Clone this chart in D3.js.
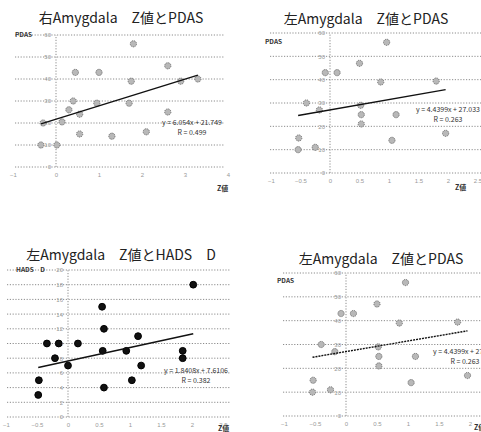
<!DOCTYPE html>
<html>
<head>
<meta charset="utf-8">
<script src="https://cdnjs.cloudflare.com/ajax/libs/d3/7.8.5/d3.min.js"></script>
<style>
body{margin:0;background:#fff;}
svg{display:block;font-family:"Noto Sans CJK JP","Noto Sans",sans-serif;}
.grid{stroke:#8c8c8c;stroke-width:1;stroke-dasharray:1.2,1.6;}
.yaxis .tick text,.xaxis .tick text{fill:#999;font-size:6px;}
</style>
</head>
<body>
<svg id="canvas" width="481" height="432"></svg>
<script>
//右Amygdala Z値 - PDAS
var rightZ    = [1.8, 2.6, 0.45, 1.0, 1.75, 2.9, 3.3, 0.4, 0.3, 0.55, 0.95, 1.7, 2.6, -0.3, 0.14, 0.55, 1.3, 2.1, -0.35, 0.02];
var rightPDAS = [56, 46, 43, 43, 39, 39, 40, 30, 26, 24, 29, 29, 25, 20, 20.5, 15, 14, 16, 10, 10];
//左Amygdala Z値 - PDAS
var leftZ    = [0.96, 0.5, -0.08, 0.12, 0.86, 1.8, -0.4, -0.18, 0.52, 0.53, 1.12, 0.53, -0.53, -0.54, -0.25, 1.05, 1.96];
var leftPDAS = [56, 47, 43, 43, 39, 39.4, 30, 27, 29, 25, 25, 21, 15, 10, 11, 14, 17];
//左Amygdala Z値 - HADS D
var leftZh   = [2.02, 0.55, 0.58, 1.13, -0.34, -0.15, 0.16, 0.56, 0.94, 1.85, 1.85, -0.21, 0, 1.18, -0.47, 1.03, 0.58, -0.48];
var leftHADS = [18, 15, 12, 11, 10, 10, 10, 9, 9, 9, 8, 8, 7, 7, 5, 5, 4, 3];

// trend lines (as printed on the charts)
var slopes     = [6.054, 4.4399, 1.8408, 4.4399];
var intercepts = [21.749, 27.033, 7.6106, 27.033];
var eqLabels   = ["y = 6.054x + 21.749", "y = 4.4399x + 27.033", "y = 1.8408x + 7.6106", "y = 4.4399x + 27.033"];
var rLabels    = ["R = 0.499", "R = 0.263", "R = 0.382", "R = 0.263"];

// tick labels
var pdasTicks   = [0, 10, 20, 30, 40, 50, 60];
var hadsTicks   = [0, 2, 4, 6, 8, 10, 12, 14, 16, 18, 20];
var zTicksRight = [-1, 0, 1, 2, 3, 4];
var zTicksLeft  = [-1, -0.5, 0, 0.5, 1, 1.5, 2, 2.5];

var titles = ["右Amygdala\u3000Z値とPDAS", "左Amygdala\u3000Z値とPDAS", "左Amygdala\u3000Z値とHADS\u3000D", "左Amygdala\u3000Z値とPDAS"];
var yNames = ["PDAS", "PDAS", "HADS\u3000D", "PDAS"];

var ScatterWidget = {
	draw: function(svg, p){
		var g = svg.append("g");
		var x = d3.scaleLinear().domain(p.xd).range(p.xr);
		var y = d3.scaleLinear().domain(p.yd).range(p.yr);

		//grid
		g.selectAll(".grid").data(p.yt).enter().append("line")
		.attr("class", "grid")
		.attr("x1", p.gx[0]).attr("x2", p.gx[1])
		.attr("y1", function(d){ return y(d); })
		.attr("y2", function(d){ return y(d); });

		//vertical axis at x=0
		g.append("line").attr("class", "grid")
		.attr("x1", x(0)).attr("x2", x(0))
		.attr("y1", y(p.yd[0])).attr("y2", y(p.yd[1]));

		var ya = g.append("g").attr("class", "yaxis")
		.attr("transform", "translate(" + (x(0) - 3) + ",0)")
		.call(d3.axisLeft(y).tickValues(p.yt).tickSize(0).tickPadding(2));
		ya.select(".domain").remove();

		var xa = g.append("g").attr("class", "xaxis")
		.attr("transform", "translate(0," + (y(p.yd[0]) + 4) + ")")
		.call(d3.axisBottom(x).tickValues(p.xt).tickSize(0).tickPadding(2).tickFormat(d3.format("")));
		xa.select(".domain").remove();

		//points
		g.selectAll("circle").data(p.xs).enter().append("circle")
		.attr("cx", function(d){ return x(d); })
		.attr("cy", function(d, i){ return y(p.ys[i]); })
		.attr("r", p.dark ? 3.4 : 3.1)
		.attr("fill", p.dark ? "#111" : "#b8b8b8")
		.attr("stroke", p.dark ? "#000" : "#707070")
		.attr("stroke-width", 1)
		.attr("stroke-dasharray", p.dark ? null : "1.2,0.9");

		//trend line
		var ext = d3.extent(p.xs);
		g.append("line")
		.attr("x1", x(ext[0])).attr("y1", y(p.slope * ext[0] + p.icpt))
		.attr("x2", x(ext[1])).attr("y2", y(p.slope * ext[1] + p.icpt))
		.attr("stroke", "#111").attr("stroke-width", 1.4)
		.attr("stroke-dasharray", p.dash);

		//texts
		g.append("text").attr("x", p.title[0]).attr("y", p.title[1])
		.attr("text-anchor", "middle").attr("font-size", 14).attr("fill", "#222")
		.text(p.titleText);
		g.append("text").attr("x", p.yname[0]).attr("y", p.yname[1])
		.attr("font-size", 6.5).attr("font-weight", "bold").attr("fill", "#333")
		.text(p.yNameText);
		g.append("text").attr("x", p.xname[0]).attr("y", p.xname[1])
		.attr("font-size", 7).attr("font-weight", "bold").attr("fill", "#333")
		.text("Z値");
		g.append("text").attr("x", p.eq[0]).attr("y", p.eq[1])
		.attr("text-anchor", "middle").attr("font-size", 7).attr("fill", "#333")
		.text(p.eqText);
		g.append("text").attr("x", p.eq[0]).attr("y", p.eq[1] + 10)
		.attr("text-anchor", "middle").attr("font-size", 7).attr("fill", "#333")
		.text(p.rText);
	}
};

var svg = d3.select("#canvas");

var panels = [
	{xd:[-1, 4], xr:[13, 228], yd:[0, 60], yr:[167, 35], gx:[15, 225], xt:zTicksRight, yt:pdasTicks,
	 xs:rightZ, ys:rightPDAS, title:[121, 23], yname:[15, 37], xname:[217, 191], eq:[192, 125], dash:null},
	{xd:[-1, 2.5], xr:[271, 477.5], yd:[0, 60], yr:[173, 33], gx:[270, 481], xt:zTicksLeft, yt:pdasTicks,
	 xs:leftZ, ys:leftPDAS, title:[366, 24], yname:[265, 44], xname:[455, 190], eq:[448, 112], dash:null},
	{xd:[-1, 2.5], xr:[6, 223], yd:[0, 20], yr:[417, 270], gx:[7, 230], xt:zTicksLeft, yt:hadsTicks,
	 xs:leftZh, ys:leftHADS, title:[121, 260], yname:[16, 272], xname:[218, 431], eq:[196, 373], dash:null, dark:true},
	{xd:[-1, 2.5], xr:[284, 501], yd:[0, 60], yr:[416, 273], gx:[283, 481], xt:zTicksLeft, yt:pdasTicks,
	 xs:leftZ, ys:leftPDAS, title:[381, 264], yname:[277, 283], xname:[474, 430], eq:[465, 354], dash:"2,1"}
];

panels.forEach(function(p, i){
	p.slope = slopes[i];
	p.icpt = intercepts[i];
	p.eqText = eqLabels[i];
	p.rText = rLabels[i];
	p.titleText = titles[i];
	p.yNameText = yNames[i];
	ScatterWidget.draw(svg, p);
});
</script>
</body>
</html>
